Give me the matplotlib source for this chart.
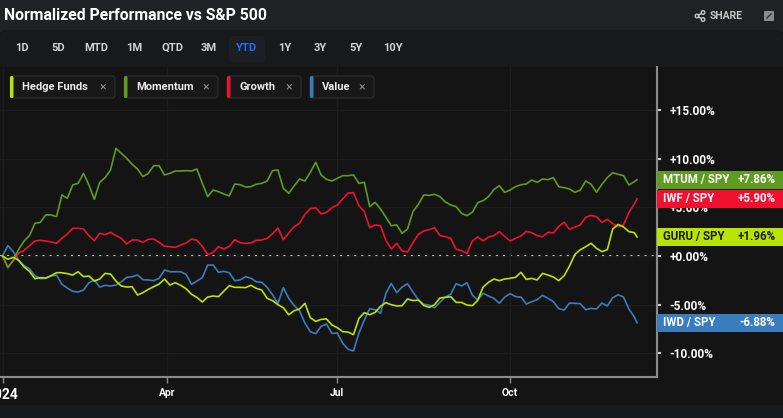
import numpy as np
import pandas as pd
import matplotlib
matplotlib.use("Agg")
import matplotlib.pyplot as plt
from matplotlib.patches import FancyBboxPatch, Circle
from matplotlib.lines import Line2D
from matplotlib.transforms import IdentityTransform, blended_transform_factory

plt.rcParams['font.family'] = ['Roboto', 'DejaVu Sans']

# ---- data (percent vs S&P 500, YTD 2024, every 2nd trading day + last day) ----
names = ["Hedge Funds", "Momentum", "Growth", "Value"]
tickers = ["GURU / SPY", "MTUM / SPY", "IWF / SPY", "IWD / SPY"]
colors = ["#b9e300", "#5f9b1f", "#f0102f", "#3a7dbd"]

hedge_funds = [0.0, -0.34, -0.14, -0.45, -1.13, -1.58, -2.34, -2.23, -2.27, -2.03, -1.72, -1.72,
               -1.82, -1.96, -1.62, -2.13, -2.06, -2.58, -2.37, -1.79, -1.86, -2.58, -3.09, -3.20,
               -3.16, -4.02, -3.78, -3.44, -3.16, -2.89, -2.37, -2.99,
               -2.75, -3.02, -3.37, -3.95, -4.26, -4.74, -4.23, -4.12, -4.19, -3.61, -3.06, -3.23,
               -3.23, -3.26, -3.02, -3.33, -3.51, -4.36, -4.60, -5.02, -5.33, -6.05, -5.64, -5.46,
               -4.88, -6.36, -6.74, -6.53, -6.49, -7.11,
               -7.39, -7.80, -7.84, -8.11, -6.43, -5.84, -6.05, -5.81, -5.19, -4.81, -5.02, -5.15,
               -5.12, -4.43, -4.60, -4.54, -5.09, -5.29, -5.02, -4.33, -4.26, -4.19, -4.78, -4.78,
               -5.05, -5.12, -4.57, -3.20, -2.71, -2.37, -2.54,
               -2.37, -2.30, -2.20, -1.68, -2.41, -2.30, -2.47, -1.79, -1.96, -2.16, -2.54, -2.03,
               -1.03, 0.17, 0.65, 0.96, 1.31, 0.79, 0.45, 0.65, 2.78, 3.26, 2.99, 2.51, 2.41, 1.96]

momentum = [0.0, -1.20, -0.41, 0.69, 1.55, 2.10, 3.37, 3.47, 4.23, 4.23, 4.05, 6.29,
            5.95, 7.32, 7.49, 8.52, 7.32, 5.84, 7.59, 8.08, 8.87, 11.10, 10.58, 10.07,
            9.45, 8.97, 8.18, 8.52, 9.31, 9.31, 8.35, 8.52,
            8.76, 8.76, 8.80, 8.76, 8.97, 7.49, 6.12, 6.80, 6.63, 6.39, 6.19, 7.42,
            7.35, 7.11, 7.15, 7.39, 7.49, 7.73, 8.80, 8.87, 6.98, 6.46, 7.22, 7.94,
            7.73, 8.63, 9.66, 8.35, 7.90, 7.73,
            8.01, 8.28, 8.28, 8.35, 7.49, 7.59, 5.09, 5.53, 4.85, 3.99, 3.13, 3.20,
            2.34, 2.78, 4.57, 5.33, 6.29, 6.25, 6.36, 6.12, 5.57, 5.26, 5.09, 4.40,
            4.16, 4.50, 5.50, 5.70, 6.12, 6.84, 7.25,
            6.56, 6.80, 7.15, 7.35, 7.42, 7.84, 7.59, 7.94, 7.87, 8.08, 7.15, 7.04,
            6.91, 6.56, 6.80, 7.73, 7.39, 6.56, 7.39, 8.08, 8.59, 8.42, 8.28, 7.32, 7.66, 7.86]

growth = [0.0, -1.13, -0.52, 0.31, 0.58, 1.07, 1.55, 1.62, 1.55, 1.44, 1.31, 1.82,
          2.27, 2.85, 2.85, 2.78, 2.10, 1.58, 2.34, 2.20, 2.44, 2.10, 1.82, 1.24,
          1.65, 1.65, 1.41, 1.72, 1.75, 1.41, 1.00, 0.96,
          0.89, 1.13, 1.34, 1.75, 1.62, 1.00, 0.14, 0.38, 0.96, 0.72, 1.00, 1.68,
          1.37, 1.31, 1.34, 1.62, 1.65, 1.82, 2.30, 2.89, 1.68, 2.37, 3.02, 3.37,
          4.30, 4.88, 4.98, 4.33, 4.50, 4.98,
          5.26, 5.88, 6.49, 6.53, 5.19, 4.57, 2.92, 3.20, 3.13, 1.62, 0.72, 1.31,
          0.52, 0.41, 1.37, 2.23, 2.58, 2.71, 2.92, 2.10, 1.99, 1.82, 0.69, 0.55,
          0.27, 1.55, 1.96, 1.55, 1.96, 2.10, 2.51,
          2.03, 1.55, 1.82, 2.06, 2.54, 2.41, 2.10, 1.99, 2.44, 2.37, 3.06, 3.47,
          2.75, 2.99, 3.20, 3.99, 4.19, 4.05, 3.47, 3.78, 3.33, 3.02, 3.20, 4.50, 5.36, 5.90]

value = [0.0, 1.07, 0.45, -0.45, -1.00, -1.31, -2.03, -2.34, -2.30, -2.06, -1.96, -2.92,
         -3.30, -3.64, -3.71, -3.51, -2.75, -2.47, -3.20, -3.02, -3.09, -2.99, -2.65, -2.20,
         -2.13, -1.96, -2.44, -2.47, -2.54, -2.30, -1.44, -1.62,
         -1.62, -1.62, -1.89, -2.92, -2.58, -2.23, -0.93, -0.93, -1.68, -1.58, -1.72, -2.54,
         -2.47, -2.13, -2.30, -2.65, -2.71, -3.23, -3.99, -4.91, -3.26, -4.36, -5.09, -5.64,
         -6.91, -7.80, -8.01, -7.25, -7.01, -7.97,
         -7.94, -9.00, -9.62, -9.79, -7.94, -6.60, -5.43, -5.53, -5.91, -3.85, -2.82, -3.78,
         -3.20, -2.85, -3.71, -4.50, -4.98, -5.05, -5.33, -4.78, -4.23, -3.95, -2.85, -3.09,
         -2.75, -4.02, -4.54, -3.85, -4.12, -4.36, -4.88,
         -4.23, -3.88, -4.19, -4.23, -4.95, -4.71, -4.50, -4.05, -4.36, -4.71, -5.43, -5.57,
         -4.85, -4.88, -4.91, -5.53, -5.40, -5.46, -4.85, -5.15, -4.30, -3.99, -4.23, -5.46,
         -6.29, -6.88]

series = [hedge_funds, momentum, growth, value]

# trading calendar 2024 (NYSE holidays)
holidays = ["2024-01-01", "2024-01-15", "2024-02-19", "2024-03-29", "2024-05-27",
            "2024-06-19", "2024-07-04", "2024-09-02", "2024-11-28"]
days = pd.bdate_range("2024-01-02", "2024-12-06", freq="C", holidays=holidays)
pos = np.r_[np.arange(0, len(days) - 1, 2), len(days) - 1]
tick_dates = pd.to_datetime(["2024-01-02", "2024-04-01", "2024-07-01", "2024-10-01"])
tick_labels = ["2024", "Apr", "Jul", "Oct"]
tick_pos = np.searchsorted(days, tick_dates)

W, H = 783, 418
BG = "#141414"
fig = plt.figure(figsize=(W / 100, H / 100), dpi=100, facecolor=BG)
PX = IdentityTransform()


def box(x, y, w, h, color, r=0, ec="none", z=0):
    style = f"round,pad=0,rounding_size={r}" if r else "square,pad=0"
    p = FancyBboxPatch((x, H - y - h), w, h, boxstyle=style, transform=PX,
                       fc=color, ec=ec, lw=1, zorder=z)
    fig.add_artist(p)


def label(x, y, s, **kw):
    fig.text(x / W, 1 - y / H, s, va="center", **kw)


# header + panels
box(0, 0, W, 32, "#202124")
box(0, 30, W, 40, "#18191b", r=6)
box(0, 67, W, 340, BG)
box(0, 405, W, 13, "#18191b")
label(4, 16, "Normalized Performance vs S&P 500", fontsize=11.3, weight="bold", color="white")
label(710, 16, "SHARE", fontsize=7.5, weight="bold", color="#c8c8c8")
for cx, cy in [(697, 16), (703, 12.5), (703, 19.5)]:
    fig.add_artist(Circle((cx, H - cy), 1.8, transform=PX, fc="none", ec="#c8c8c8", lw=1, zorder=3))
fig.add_artist(Line2D([698.5, 701.5], [H - 15.2, H - 13.4], transform=PX, color="#c8c8c8", lw=1, zorder=3))
fig.add_artist(Line2D([698.5, 701.5], [H - 16.8, H - 18.6], transform=PX, color="#c8c8c8", lw=1, zorder=3))
box(764, 11, 10, 10, "#8c8c8c", r=1, z=3)
fig.add_artist(Line2D([767, 771], [H - 18, H - 14], transform=PX, color="#333333", lw=1, zorder=4))

ranges = ["1D", "5D", "MTD", "1M", "QTD", "3M", "YTD", "1Y", "3Y", "5Y", "10Y"]
range_x = [22, 58, 96, 134, 172, 209, 247, 285, 320, 356, 393]
box(229, 36, 36, 26, "#1d1e21", r=4, z=1)
for s, x in zip(ranges, range_x):
    label(x, 48, s, fontsize=8, weight="bold", ha="center",
          color="#1f6fff" if s == "YTD" else "#cfd2d6", zorder=3)

# legend chips
chips = [(10, 105), (124, 94), (227, 74), (310, 64)]
for (x0, w), name, c in zip(chips, names, colors):
    box(x0, 76, w, 22, "#181818", r=3, ec="#2a2a2a", z=2)
    box(x0, 76, 3.5, 22, c, r=1.5, z=3)
    label(x0 + 12, 87, name, fontsize=8, weight="bold", color="#ececec", zorder=4)
    label(x0 + w - 12, 87, "\u00d7", fontsize=9, color="#8a8a8a", ha="center", zorder=4)

# ---- chart ----
ax = fig.add_axes([0, 1 - 377 / H, 657 / W, (377 - 67) / H])
ax.set_zorder(1)
ax.set_facecolor("none")
for s, c in zip([value, growth, momentum, hedge_funds], [colors[3], colors[2], colors[1], colors[0]]):
    ax.plot(pos, s, color=c, lw=1.2, solid_joinstyle="round")
ax.axhline(0, color="#e6e6e6", lw=1.5, ls=(0, (1, 2.4)), zorder=1)

ax.set_xlim(-0.93, 242.4)
ax.set_ylim(-12.47, 19.48)
ax.set_xticks(tick_pos)
ax.set_xticklabels(tick_labels)
for t in ax.get_xticklabels():
    t.set_fontweight("bold")
    t.set_fontsize(10 if t.get_text() == "2024" else 7.5)
ax.tick_params(axis="x", colors="#8a8a8a", length=4, width=1, labelcolor="white", pad=4)
yt = [-10, -5, 0, 5, 10, 15]
ax.yaxis.tick_right()
ax.set_yticks(yt)
ax.set_yticklabels([f"{v:+.2f}%" for v in yt])
ax.tick_params(axis="y", colors="#d0d0d0", length=3, width=1.5, labelcolor="white",
               labelsize=8.6, pad=6)
for t in ax.get_yticklabels():
    t.set_fontweight("bold")
ax.grid(color="#1d1d1d", lw=1)
for side in ["left", "top"]:
    ax.spines[side].set_visible(False)
for side in ["right", "bottom"]:
    ax.spines[side].set_color("#8a8a8a")
    ax.spines[side].set_linewidth(1.5)

# last-value tags
tr = blended_transform_factory(ax.transAxes, ax.transData)
hh = 18 / (310 / (19.48 + 12.47))  # 18 px in data units
for s, c, tk in zip(series, colors, tickers):
    last = s[-1]
    fc = "#1a1a1a" if tk.startswith("GURU") else "white"
    ax.add_patch(FancyBboxPatch((1.0, last - hh / 2), 0.195, hh, boxstyle="square,pad=0",
                                transform=tr, fc=c, ec="none", clip_on=False, zorder=5))
    ax.text(1.009, last, tk, transform=tr, color=fc, fontsize=8.3, weight="bold",
            va="center", ha="left", zorder=6, clip_on=False)
    ax.text(1.18, last, f"{last:+.2f}%", transform=tr, color=fc, fontsize=8.3, weight="bold",
            va="center", ha="right", zorder=6, clip_on=False)

fig.savefig("out.png", dpi=100, facecolor=BG)
